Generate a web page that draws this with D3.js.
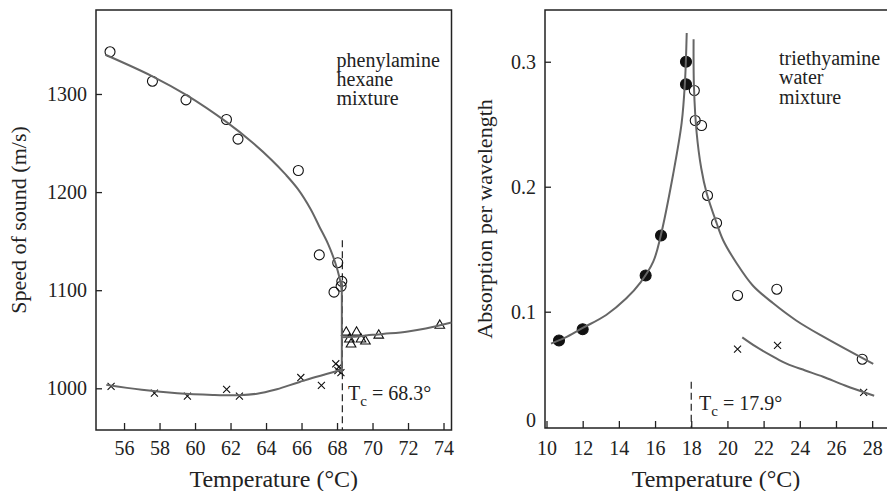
<!DOCTYPE html>
<html>
<head>
<meta charset="utf-8">
<script src="https://cdn.jsdelivr.net/npm/d3@7"></script>
<style>
  body { margin: 0; background: #fff; }
  svg text { font-family: "Liberation Serif", "Times New Roman", Times, Tinos, "DejaVu Serif", serif; fill: #222; }
</style>
</head>
<body>
<svg id="chart" width="887" height="491"></svg>
<script>
// ---- left panel: phenylamine / hexane, speed of sound ----
var leftCircles = [[55.21,1343],[57.6,1313],[59.49,1294],[61.77,1274],[62.42,1254],[65.82,1222],
                   [67.0,1136],[68.04,1128],[67.83,1098],[68.27,1109],[68.23,1104]];
var leftCrosses = [[55.27,1002],[57.71,995],[59.57,992],[61.78,999],[62.5,992],[65.96,1011],
                   [67.12,1003],[67.93,1025],[68.12,1022],[68.05,1018],[68.22,1016]];
var leftTriangles = [[68.52,1057],[68.7,1050],[68.79,1045],[69.1,1057],[69.35,1050],[69.6,1048],
                     [70.35,1054],[73.79,1064]];
var leftFitUpper = [[54.95,1340],[57.6,1318],[59.5,1299],[61.8,1271],[63.2,1251],[64.3,1233],
                    [65.1,1218],[65.8,1203],[66.5,1183],[67.0,1165],[67.5,1147],[67.9,1128],
                    [68.15,1112],[68.27,1100]];
var leftFitJump = [[68.27,1110],[68.27,1016]];
var leftFitLower = [[55.0,1003.5],[57,998.5],[59,995],[61,993.3],[62.5,993],[63.5,994.5],
                    [64.5,998.5],[65.3,1003],[65.9,1006.5],[66.6,1010.5],[67.4,1014.5],[68.27,1019]];
var leftFitAbove = [[68.27,1052],[68.9,1052.5],[70,1054.5],[71,1056],[72,1058],[73,1061],[74.45,1067]];
var leftXTicks = [56,58,60,62,64,66,68,70,72,74];
var leftYTicks = [1000,1100,1200,1300];
var leftTc = 68.3;
var leftLegend = ["phenylamine","hexane","mixture"];

// ---- right panel: triethyamine / water, absorption ----
var rightFilled = [[17.71,0.300],[17.71,0.282],[16.33,0.161],[15.48,0.129],[12.0,0.086],[10.69,0.077]];
var rightOpen = [[18.17,0.277],[18.22,0.253],[18.57,0.249],[18.9,0.193],[19.4,0.171],
                 [20.56,0.113],[22.73,0.118],[27.45,0.062]];
var rightCrosses = [[20.56,0.070],[22.77,0.073],[27.53,0.0355]];
var rightFitLeft = [[10.25,0.0745],[11,0.079],[12,0.087],[13.3,0.0974],[14.4,0.1105],[15.2,0.1235],
                    [15.9,0.140],[16.3,0.160],[17.0,0.210],[17.47,0.251],[17.65,0.283],[17.75,0.323]];
var rightFitRight = [[18.13,0.318],[18.15,0.28],[18.3,0.243],[18.55,0.215],[18.85,0.195],[19.4,0.171],
                     [19.77,0.157],[20.5,0.139],[21.4,0.121],[22.53,0.1067],[23.8,0.093],
                     [25.3,0.08],[28.06,0.0582]];
var rightFitCross = [[20.82,0.0795],[21.6,0.0718],[22.5,0.0643],[23.3,0.0582],[24.3,0.053],
                     [25.29,0.048],[26.5,0.041],[28.11,0.0328]];
var rightXTicks = [10,12,14,16,18,20,22,24,26,28];
var rightYTicks = [0.1,0.2,0.3];
var rightTc = 17.9;
var rightLegend = ["triethyamine","water","mixture"];

var svg = d3.select("#chart");
var ink = "#222", curveColor = "#666";
var serif = "'Liberation Serif', 'Times New Roman', Times, Tinos, 'DejaVu Serif', serif";

var xL = d3.scaleLinear().domain([54.42, 74.45]).range([96, 451.5]);
var yL = d3.scaleLinear().domain([957.5, 1385.6]).range([430, 10]);
var xR = d3.scaleLinear().domain([9.917, 28.82]).range([545, 887]);
var yR = d3.scaleLinear().domain([0.00696, 0.3414]).range([428, 10]);

function drawFrame(x, y, right) {
    svg.append("rect")
        .attr("x", x.range()[0])
        .attr("y", y.range()[1])
        .attr("width", (right || x.range()[1]) - x.range()[0])
        .attr("height", y.range()[0] - y.range()[1])
        .attr("fill", "none")
        .attr("stroke", ink)
        .attr("stroke-width", 1.5);
}

function drawAxes(x, y, xTicks, yTicks, yFormat, xPad) {
    var gx = svg.append("g")
        .attr("transform", "translate(0," + y.range()[0] + ")")
        .call(d3.axisBottom(x).tickValues(xTicks).tickSize(-7).tickPadding(xPad));
    var gy = svg.append("g")
        .attr("transform", "translate(" + x.range()[0] + ",0)")
        .call(d3.axisLeft(y).tickValues(yTicks).tickFormat(yFormat).tickSize(-6).tickPadding(9));
    [gx, gy].forEach(function (g) {
        g.attr("font-family", null).attr("font-size", null);
        g.select(".domain").remove();
        g.selectAll(".tick line").attr("stroke", ink).attr("stroke-width", 1.3);
        g.selectAll(".tick text")
            .style("font-family", serif)
            .style("font-size", "20px")
            .attr("fill", ink);
    });
}

function drawCurve(x, y, pts) {
    var line = d3.line()
        .x(function (d) { return x(d[0]); })
        .y(function (d) { return y(d[1]); })
        .curve(d3.curveCatmullRom.alpha(0.5));
    svg.append("path")
        .datum(pts)
        .attr("d", line)
        .attr("fill", "none")
        .attr("stroke", curveColor)
        .attr("stroke-width", 2);
}

function drawCircles(x, y, pts, filled, r) {
    svg.append("g").selectAll("circle")
        .data(pts)
        .enter()
        .append("circle")
        .attr("cx", function (d) { return x(d[0]); })
        .attr("cy", function (d) { return y(d[1]); })
        .attr("r", r)
        .attr("fill", filled ? "#111" : "none")
        .attr("stroke", "#111")
        .attr("stroke-width", 1.1);
}

function drawSymbols(x, y, pts, type, size) {
    svg.append("g").selectAll("path")
        .data(pts)
        .enter()
        .append("path")
        .attr("transform", function (d) { return "translate(" + x(d[0]) + "," + y(d[1]) + ")"; })
        .attr("d", d3.symbol().type(type).size(size))
        .attr("fill", "none")
        .attr("stroke", "#111")
        .attr("stroke-width", 1.1);
}

function drawDashed(x, y, t, top) {
    svg.append("line")
        .attr("x1", x(t)).attr("x2", x(t))
        .attr("y1", y(top)).attr("y2", y.range()[0])
        .attr("stroke", ink)
        .attr("stroke-width", 1.2)
        .attr("stroke-dasharray", "7,4");
}

function drawTc(px, py, value) {
    var t = svg.append("text")
        .attr("x", px)
        .attr("y", py)
        .style("font-family", serif)
        .style("font-size", "20px");
    t.append("tspan").text("T");
    t.append("tspan").attr("dy", 6).style("font-size", "15px").text("c");
    t.append("tspan").attr("dy", -6).text(" = " + value + "°");
}

function drawLegend(px, py, lines) {
    svg.append("g").selectAll("text")
        .data(lines)
        .enter()
        .append("text")
        .attr("x", px)
        .attr("y", function (d, i) { return py + i * 19.3; })
        .style("font-family", serif)
        .style("font-size", "20px")
        .text(function (d) { return d; });
}

function drawTitles(x, y, xTitle, yTitle, yTitleX) {
    var cx = (x.range()[0] + x.range()[1]) / 2;
    svg.append("text")
        .attr("x", cx)
        .attr("y", 487)
        .attr("text-anchor", "middle")
        .style("font-family", serif)
        .style("font-size", "24px")
        .text(xTitle);
    var cy = (y.range()[0] + y.range()[1]) / 2;
    svg.append("text")
        .attr("transform", "translate(" + yTitleX + "," + cy + ") rotate(-90)")
        .attr("text-anchor", "middle")
        .style("font-family", serif)
        .style("font-size", "22px")
        .text(yTitle);
}

// left panel
drawFrame(xL, yL);
drawAxes(xL, yL, leftXTicks, leftYTicks, d3.format("d"), 11);
drawDashed(xL, yL, leftTc, 1151);
drawCircles(xL, yL, leftCircles, false, 5);
drawSymbols(xL, yL, leftCrosses, d3.symbolTimes, 34);
drawSymbols(xL, yL, leftTriangles, d3.symbolTriangle, 40);
drawCurve(xL, yL, leftFitUpper);
drawCurve(xL, yL, leftFitJump);
drawCurve(xL, yL, leftFitLower);
drawCurve(xL, yL, leftFitAbove);
drawTc(348, 400, leftTc);
drawLegend(336.5, 66.5, leftLegend);
drawTitles(xL, yL, "Temperature (°C)", "Speed of sound (m/s)", 26);

// right panel
drawFrame(xR, yR, 895);
drawAxes(xR, yR, rightXTicks, rightYTicks, d3.format(".1f"), 13);
svg.append("text")
    .attr("x", xR.range()[0] - 9)
    .attr("y", yR.range()[0] - 1)
    .attr("text-anchor", "end")
    .style("font-family", serif)
    .style("font-size", "20px")
    .text("0");
drawDashed(xR, yR, 18.0, 0.044);
drawCircles(xR, yR, rightFilled, true, 5.5);
drawCircles(xR, yR, rightOpen, false, 5);
drawSymbols(xR, yR, rightCrosses, d3.symbolTimes, 34);
drawCurve(xR, yR, rightFitLeft);
drawCurve(xR, yR, rightFitRight);
drawCurve(xR, yR, rightFitCross);
drawTc(699, 410, rightTc);
drawLegend(779, 65, rightLegend);
drawTitles(xR, yR, "Temperature (°C)", "Absorption per wavelength", 492);
</script>
</body>
</html>
